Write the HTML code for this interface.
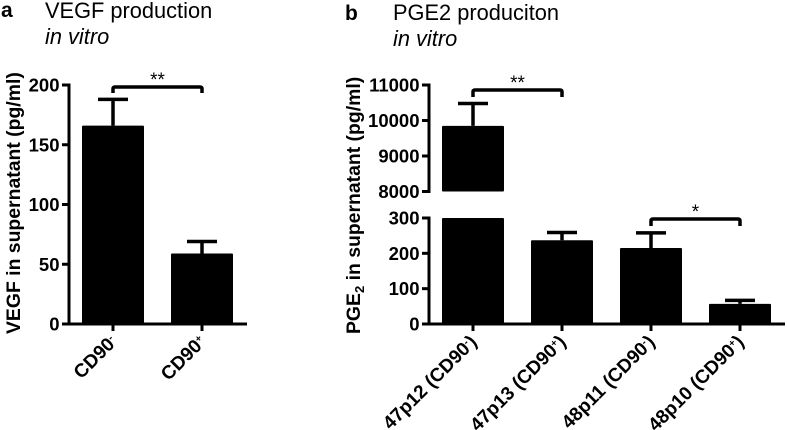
<!DOCTYPE html>
<html><head><meta charset="utf-8"><style>
html,body{margin:0;padding:0;background:#fff}
svg{display:block;font-family:"Liberation Sans",sans-serif}
</style></head><body>
<svg id="fig" width="787" height="430" viewBox="0 0 787 430" xmlns="http://www.w3.org/2000/svg">
<text x="1" y="17" font-size="21" font-weight="bold">a</text>
<text x="45" y="18" font-size="21.8">VEGF production</text>
<text x="45" y="44" font-size="21.8" font-style="italic">in vitro</text>
<text x="345" y="20" font-size="21" font-weight="bold">b</text>
<text x="393" y="20" font-size="21.8">PGE2 produciton</text>
<text x="393" y="46" font-size="21.8" font-style="italic">in vitro</text>
<text transform="translate(20,334) rotate(-90)" font-size="19.4" font-weight="bold">VEGF in supernatant (pg/ml)</text>
<text transform="translate(360,334) rotate(-90)" font-size="19.4" font-weight="bold">PGE<tspan font-size="13" dy="4">2</tspan><tspan dy="-4"> in supernatant (pg/ml)</tspan></text>
</svg>
<script>
const aCategories = ['CD90|-', 'CD90|+'];
const aValues = [166, 59];
const aErrors = [188, 69];
const aTicks = [0, 50, 100, 150, 200];

const bCategories = ['47p12 (CD90|-|)', '47p13 (CD90|+|)', '48p11 (CD90|-|)', '48p10 (CD90|+|)'];
const bValues = [9850, 237, 215, 57];
const bErrors = [10480, 259, 258, 67];
const bLowTicks = [0, 100, 200, 300];
const bHighTicks = [8000, 9000, 10000, 11000];

const svg = document.getElementById('fig');
const NS = 'http://www.w3.org/2000/svg';

function add(tag, attrs, parent) {
  const el = document.createElementNS(NS, tag);
  for (const k in attrs) el.setAttribute(k, attrs[k]);
  (parent || svg).appendChild(el);
  return el;
}
function line(x1, y1, x2, y2, w, name) {
  const el = add('line', {x1: x1, y1: y1, x2: x2, y2: y2, stroke: '#000', 'stroke-width': w});
  
  
  return el;
}
function rect(x, y, w, h, name) {
  const el = add('rect', {x: x, y: y, width: w, height: h, fill: '#000', rx: 1});
  
  
  return el;
}
function tickLabel(x, y, str, name) {
  const el = add('text', {x: x, y: y + 6.5, 'text-anchor': 'end', 'font-size': 18.5, 'font-weight': 'bold'});
  el.textContent = str;
  
  
}
function catLabel(cx, top, str, size, name) {
  const parts = str.split('|');
  const el = add('text', {
    'text-anchor': 'end', 'font-size': size, 'font-weight': 'bold',
    transform: 'translate(' + (cx + 5) + ',' + (top + 12) + ') rotate(-45)'
  });
  
  
  const a = add('tspan', {}, el);
  a.textContent = parts[0];
  const s = add('tspan', {dy: -6, 'font-size': 10}, el);
  s.textContent = parts[1];
  if (parts[2]) {
    const c = add('tspan', {dy: 6}, el);
    c.textContent = parts[2];
  }
}
function bracket(x1, x2, y, drop, stars, name) {
  const p = add('path', {
    d: 'M' + x1 + ' ' + (y + drop) + 'V' + (y + 2) + 'Q' + x1 + ' ' + y + ' ' + (x1 + 2) + ' ' + y +
       'H' + (x2 - 2) + 'Q' + x2 + ' ' + y + ' ' + x2 + ' ' + (y + 2) + 'V' + (y + drop),
    fill: 'none', stroke: '#000', 'stroke-width': 3.5
  });
  
  
  const t = add('text', {x: (x1 + x2) / 2, y: y - 1, 'text-anchor': 'middle', 'font-size': 19});
  t.textContent = stars;
  
  
}

/* Panel a */
const aBaseY = 324, aPxPerUnit = 239 / 200;
const aY = v => aBaseY - v * aPxPerUnit;
const aX = i => 113 + i * 89;
const aHalf = 31;

line(69, aY(200) - 1.5, 69, aBaseY + 1.5, 3, 'panel-a-y-axis');
line(62, aBaseY, 247, aBaseY, 3, 'panel-a-x-axis');
aTicks.forEach(t => {
  line(62, aY(t), 69, aY(t), 3, 'panel-a-y-tick-' + t);
  tickLabel(59.5, aY(t), String(t), 'panel-a-y-tick-label-' + t);
});
aCategories.forEach((c, i) => {
  const x = aX(i);
  line(x, aY(aErrors[i]), x, aY(aValues[i]), 3.5, 'panel-a-error-stem-' + i);
  line(x - 15, aY(aErrors[i]), x + 15, aY(aErrors[i]), 3.5, 'panel-a-error-cap-' + i);
  rect(x - aHalf, aY(aValues[i]), aHalf * 2, aBaseY - aY(aValues[i]), 'panel-a-bar-' + i);
  line(x, aBaseY, x, aBaseY + 7, 3, 'panel-a-x-tick-' + i);
  catLabel(x, aBaseY + 7, c, 19, 'panel-a-x-label-' + i);
});
bracket(aX(0), aX(1), 87, 6, '**', 'panel-a-bracket');

/* Panel b, broken axis */
const bBaseY = 324, bLowPx = 106 / 300, bBreakY = 191.5, bHighPx = 106.5 / 3000;
const bLowY = v => bBaseY - v * bLowPx;
const bHighY = v => bBreakY - (v - 8000) * bHighPx;
const bY = v => v >= 8000 ? bHighY(v) : bLowY(v);
const bX = i => 473 + i * 89;
const bHalf = 31;

line(429, bHighY(11000) - 1.5, 429, bBreakY + 1.5, 3, 'panel-b-y-axis-upper');
line(429, bLowY(300) - 1.5, 429, bBaseY + 1.5, 3, 'panel-b-y-axis-lower');
line(422, bBaseY, 785, bBaseY, 3, 'panel-b-x-axis');
bLowTicks.forEach(t => {
  line(422, bLowY(t), 429, bLowY(t), 3, 'panel-b-y-tick-' + t);
  tickLabel(419.5, bLowY(t), String(t), 'panel-b-y-tick-label-' + t);
});
bHighTicks.forEach(t => {
  line(422, bHighY(t), 429, bHighY(t), 3, 'panel-b-y-tick-' + t);
  tickLabel(419.5, bHighY(t), String(t), 'panel-b-y-tick-label-' + t);
});
bCategories.forEach((c, i) => {
  const x = bX(i), v = bValues[i];
  line(x, bY(bErrors[i]), x, bY(v), 3.5, 'panel-b-error-stem-' + i);
  line(x - 15, bY(bErrors[i]), x + 15, bY(bErrors[i]), 3.5, 'panel-b-error-cap-' + i);
  if (v >= 8000) {
    rect(x - bHalf, bHighY(v), bHalf * 2, bBreakY - bHighY(v), 'panel-b-bar-upper-' + i);
    rect(x - bHalf, bLowY(300), bHalf * 2, bBaseY - bLowY(300), 'panel-b-bar-lower-' + i);
  } else {
    rect(x - bHalf, bLowY(v), bHalf * 2, bBaseY - bLowY(v), 'panel-b-bar-' + i);
  }
  line(x, bBaseY, x, bBaseY + 7, 3, 'panel-b-x-tick-' + i);
  catLabel(x, bBaseY + 7, c, 19, 'panel-b-x-label-' + i);
});
bracket(bX(0), bX(1), 90, 7, '**', 'panel-b-bracket-top');
bracket(bX(2), bX(3), 219, 7, '*', 'panel-b-bracket-bottom');
</script>
</body></html>
